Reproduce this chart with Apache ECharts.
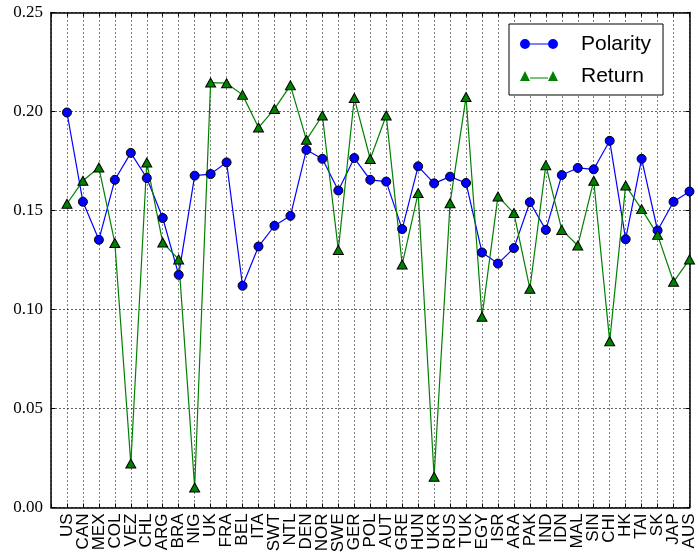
<!DOCTYPE html>
<html>
<head>
<meta charset="utf-8">
<script src="https://cdn.jsdelivr.net/npm/echarts@6/dist/echarts.min.js"></script>
<style>
  html, body { margin: 0; padding: 0; background: #fff; }
  #chart { width: 698px; height: 557px; }
</style>
</head>
<body>
<div id="chart"></div>
<script>
  // country codes along the x axis
  const countries = ['US', 'CAN', 'MEX', 'COL', 'VEZ', 'CHL', 'ARG', 'BRA', 'NIG', 'UK',
    'FRA', 'BEL', 'ITA', 'SWT', 'NTL', 'DEN', 'NOR', 'SWE', 'GER', 'POL',
    'AUT', 'GRE', 'HUN', 'UKR', 'RUS', 'TUK', 'EGY', 'ISR', 'ARA', 'PAK',
    'IND', 'IDN', 'MAL', 'SIN', 'CHI', 'HK', 'TAI', 'SK', 'JAP', 'AUS'];

  const polarity = [0.1995, 0.1544, 0.1352, 0.1655, 0.1791, 0.1664, 0.1462, 0.1175, 0.1676, 0.1684,
    0.1743, 0.1120, 0.1318, 0.1423, 0.1473, 0.1806, 0.1761, 0.1601, 0.1765, 0.1655,
    0.1646, 0.1406, 0.1723, 0.1637, 0.1671, 0.1639, 0.1288, 0.1232, 0.1310, 0.1542,
    0.1402, 0.1679, 0.1715, 0.1708, 0.1852, 0.1355, 0.1761, 0.1399, 0.1544, 0.1596];

  const returns = [0.1534, 0.1650, 0.1717, 0.1336, 0.0222, 0.1742, 0.1338, 0.1253, 0.0101, 0.2146,
    0.2143, 0.2084, 0.1919, 0.2013, 0.2132, 0.1857, 0.1980, 0.1301, 0.2068, 0.1760,
    0.1980, 0.1227, 0.1588, 0.0155, 0.1537, 0.2073, 0.0963, 0.1571, 0.1487, 0.1105,
    0.1729, 0.1402, 0.1323, 0.1650, 0.0840, 0.1626, 0.1507, 0.1377, 0.1140, 0.1253];

  const yTicks = [0, 0.05, 0.10, 0.15, 0.20, 0.25];

  // the plot leaves one empty slot before the first country (xlim -1..39)
  const xSlots = [''].concat(countries);

  // legend icons: marker - line - marker, like the matplotlib legend
  const circleIcon = 'path://M1,6 A5,5 0 1,1 11,6 A5,5 0 1,1 1,6 Z M29,6 A5,5 0 1,1 39,6 A5,5 0 1,1 29,6 Z M11,5.5 L29,5.5 L29,6.5 L11,6.5 Z';
  const triIcon = 'path://M1,11 L6,1 L11,11 Z M29,11 L34,1 L39,11 Z M11,7.5 L29,7.5 L29,8.5 L11,8.5 Z';

  const tickStyle = { show: true, inside: true, length: 4, interval: 0, lineStyle: { color: '#000', width: 1 } };
  const spine = { show: true, onZero: false, lineStyle: { color: '#000', width: 1.5 } };

  const chart = echarts.init(document.getElementById('chart'));
  chart.setOption({
    animation: false,
    backgroundColor: '#fff',
    grid: { left: 51, right: 8, top: 12.5, bottom: 49.5 },
    legend: {
      left: 509,
      top: 24,
      orient: 'vertical',
      backgroundColor: '#fff',
      borderColor: '#000',
      borderWidth: 1,
      padding: [9, 12, 8, 11],
      itemGap: 10,
      itemWidth: 38,
      itemHeight: 10,
      itemStyle: { borderWidth: 0 },
      textStyle: { fontFamily: 'Liberation Sans', fontSize: 21, color: '#000', lineHeight: 22, padding: [0, 0, 0, 18] },
      data: [
        { name: 'Polarity', icon: circleIcon },
        { name: 'Return', icon: triIcon }
      ]
    },
    xAxis: [
      {
        type: 'category',
        data: xSlots,
        boundaryGap: false,
        axisLine: spine,
        axisTick: tickStyle,
        axisLabel: {
          interval: 0,
          rotate: 90,
          margin: 6,
          color: '#000',
          fontFamily: 'Liberation Sans',
          fontSize: 17,
          lineHeight: 13,
          showMinLabel: true,
          showMaxLabel: true,
          hideOverlap: false
        },
        splitLine: { show: true, interval: 0, lineStyle: { color: '#000', type: [1, 3], width: 1 } }
      },
      {
        type: 'category',
        data: xSlots,
        boundaryGap: false,
        position: 'top',
        axisLine: spine,
        axisTick: tickStyle,
        axisLabel: { show: false },
        splitLine: { show: false }
      }
    ],
    yAxis: [
      {
        type: 'value',
        min: yTicks[0],
        max: yTicks[yTicks.length - 1],
        interval: 0.05,
        axisLine: spine,
        axisTick: tickStyle,
        axisLabel: {
          margin: 8,
          color: '#000',
          fontFamily: 'Liberation Serif',
          fontSize: 17,
          showMinLabel: true,
          showMaxLabel: true,
          formatter: v => v.toFixed(2)
        },
        splitLine: { show: true, lineStyle: { color: '#666', type: [2, 2], width: 1 } }
      },
      {
        type: 'value',
        position: 'right',
        min: yTicks[0],
        max: yTicks[yTicks.length - 1],
        interval: 0.05,
        axisLine: spine,
        axisTick: tickStyle,
        axisLabel: { show: false },
        splitLine: { show: false }
      }
    ],
    series: [
      {
        name: 'Polarity',
        type: 'line',
        data: polarity.map((v, i) => [countries[i], v]),
        symbol: 'circle',
        symbolSize: 9,
        color: '#0000ff',
        lineStyle: { color: '#0000ff', width: 1.2 },
        itemStyle: { color: '#0000ff', borderColor: '#000', borderWidth: 1 }
      },
      {
        name: 'Return',
        type: 'line',
        data: returns.map((v, i) => [countries[i], v]),
        symbol: 'triangle',
        symbolSize: [10, 9],
        color: '#008000',
        lineStyle: { color: '#008000', width: 1.2 },
        itemStyle: { color: '#008000', borderColor: '#000', borderWidth: 1 }
      }
    ]
  });
</script>
</body>
</html>
